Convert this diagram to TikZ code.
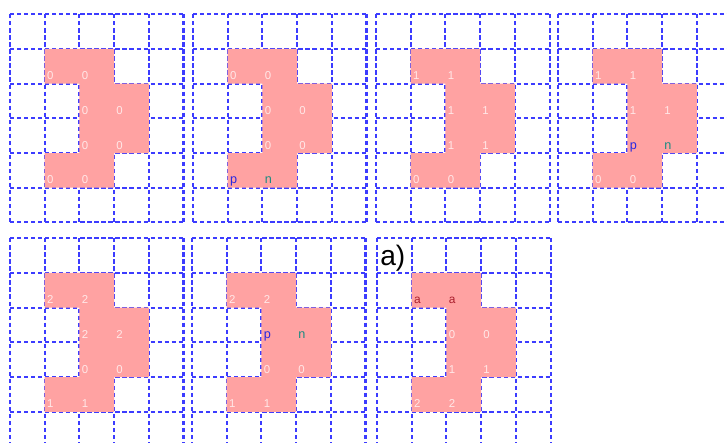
\documentclass[tikz,border=0pt]{standalone}
\usepackage{fontspec}
\setmainfont{Liberation Sans}

\definecolor{gridblue}{RGB}{60,60,255}
\definecolor{blobpink}{RGB}{255,162,162}
\definecolor{lblpink}{RGB}{255,232,232}
\definecolor{pblue}{RGB}{40,40,225}
\definecolor{nteal}{RGB}{25,140,130}
\definecolor{ared}{RGB}{170,30,45}

\newcommand{\markp}{{\fontsize{7.2}{8}\selectfont\textcolor{pblue}{p}}}
\newcommand{\markn}{{\fontsize{7.2}{8}\selectfont\textcolor{nteal}{n}}}
\newcommand{\marka}{{\fontsize{6.8}{8}\selectfont\textcolor{ared}{a}}}

% one 5x6 grid with the pink shape and its eight cell labels
\newcommand{\shapegrid}[3]{%
\begin{scope}[shift={#2}]
\foreach \i in {0,...,5} \draw[gridline] (\i,0) -- (\i,6);
\foreach \j in {0,...,6} \draw[gridline] (0,\j) -- (5,\j);
\fill[blob] (1,1) -- (3,1) -- (3,2) -- (4,2) -- (4,4) -- (3,4) -- (3,5) -- (1,5) -- (1,4) -- (2,4) -- (2,2) -- (1,2) -- cycle;
\foreach \lbl [count=\k] in {#3} {
  \pgfmathsetmacro\cx{{1,2,2,3,2,3,1,2}[\k-1]}
  \pgfmathsetmacro\cy{{2,2,3,3,4,4,5,5}[\k-1]}
  \node[celllbl] (#1-\k) at (\cx+0.058,\cy-0.115) {\lbl};
}
\end{scope}}

\begin{document}
\begin{tikzpicture}[x=0.694cm,y=-0.694cm,
gridline/.style={draw=gridblue,line width=1.15pt,dash pattern=on 2.4pt off 1.6pt},
blob/.style={fill=blobpink},
celllbl/.style={anchor=base west,inner sep=0pt,text=lblpink,font=\fontsize{6.5}{7}\selectfont},
caption/.style={anchor=base west,inner sep=0pt,font=\fontsize{16}{18}\selectfont}]
\useasboundingbox (0,0) rectangle (20.951,12.738);
\clip (0,0) rectangle (20.951,12.738);
\shapegrid{g1}{(0.288,0.41)}{0,0,0,0,0,0,0,0}
\shapegrid{g2}{(5.562,0.41)}{0,0,0,0,0,0,\markp,\markn}
\shapegrid{g3}{(10.836,0.41)}{1,1,1,1,1,1,0,0}
\shapegrid{g4}{(16.081,0.41)}{1,1,1,1,\markp,\markn,0,0}
\shapegrid{g5}{(0.288,6.866)}{2,2,2,2,0,0,1,1}
\shapegrid{g6}{(5.533,6.866)}{2,2,\markp,\markn,0,0,1,1}
\shapegrid{g7}{(10.865,6.866)}{\marka,\marka,0,0,1,1,2,2}
\node[caption] (tag) at (10.951,7.637) {a)};
\end{tikzpicture}
\end{document}
